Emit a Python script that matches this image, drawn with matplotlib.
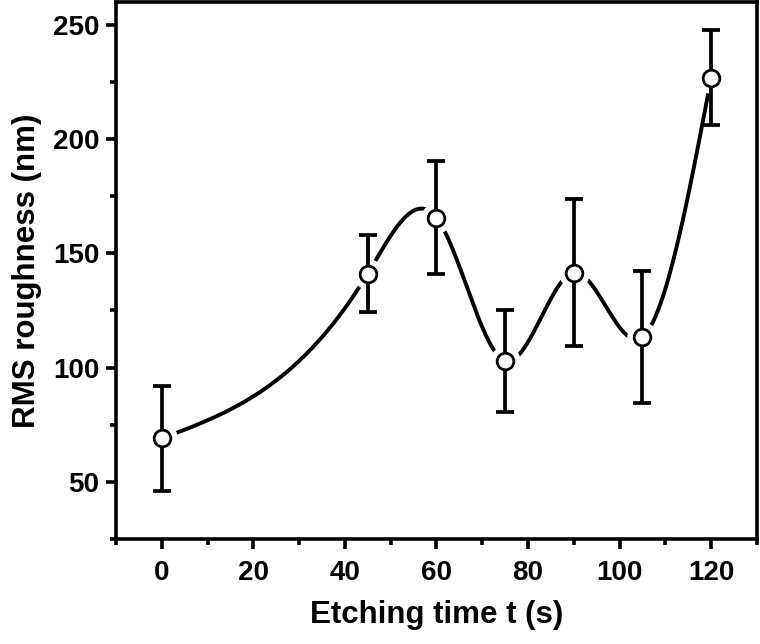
import numpy as np
import matplotlib
matplotlib.use("Agg")
import matplotlib.pyplot as plt
from matplotlib.ticker import MultipleLocator

# Data
etch_time = [0, 45, 60, 75, 90, 105, 120]
rms_rough = [69.0, 141.1, 165.5, 102.9, 141.5, 113.4, 226.7]
rms_err = [23.0, 16.7, 24.7, 22.3, 32.0, 29.0, 20.7]

x_ticks = [0, 20, 40, 60, 80, 100, 120]
y_ticks = [50, 100, 150, 200, 250]


def natural_spline(x, y, xs):
    x = np.asarray(x, float)
    y = np.asarray(y, float)
    n = len(x)
    h = np.diff(x)
    A = np.zeros((n, n))
    b = np.zeros(n)
    A[0, 0] = 1
    A[-1, -1] = 1
    for i in range(1, n - 1):
        A[i, i - 1] = h[i - 1]
        A[i, i] = 2 * (h[i - 1] + h[i])
        A[i, i + 1] = h[i]
        b[i] = 6 * ((y[i + 1] - y[i]) / h[i] - (y[i] - y[i - 1]) / h[i - 1])
    M = np.linalg.solve(A, b)
    idx = np.clip(np.searchsorted(x, xs) - 1, 0, n - 2)
    x0, x1 = x[idx], x[idx + 1]
    hh = x1 - x0
    t1 = x1 - xs
    t0 = xs - x0
    return (M[idx] * t1 ** 3 / (6 * hh) + M[idx + 1] * t0 ** 3 / (6 * hh)
            + (y[idx] / hh - M[idx] * hh / 6) * t1
            + (y[idx + 1] / hh - M[idx + 1] * hh / 6) * t0)


plt.rcParams['font.family'] = ['Liberation Sans', 'DejaVu Sans']
plt.rcParams['font.weight'] = 'bold'

fig = plt.figure(figsize=(7.6, 6.44), dpi=100)
ax = fig.add_axes([0.1526, 0.163, 0.8434, 0.8344])

xs = np.linspace(etch_time[0], etch_time[-1], 600)
ax.plot(xs, natural_spline(etch_time, rms_rough, xs), color='black', lw=2.8,
        solid_capstyle='butt', zorder=1)
# white halo giving the gap between line and symbols
ax.plot(etch_time, rms_rough, ls='none', marker='o', ms=17, mfc='white',
        mec='white', mew=5, zorder=2)
ax.errorbar(etch_time, rms_rough, yerr=rms_err, fmt='none', ecolor='black',
            elinewidth=2.7, capsize=6.5, capthick=2.7, zorder=3)
ax.plot(etch_time, rms_rough, ls='none', marker='o', ms=12, mfc='white',
        mec='black', mew=2.0, zorder=4)

ax.set_xlim(-10, 130)
ax.set_ylim(25, 260)
ax.set_xticks(x_ticks)
ax.set_yticks(y_ticks)
ax.xaxis.set_minor_locator(MultipleLocator(10))
ax.yaxis.set_minor_locator(MultipleLocator(25))
ax.tick_params(which='major', direction='out', length=7, width=2.6,
               labelsize=20, pad=5)
ax.tick_params(which='minor', direction='out', length=4, width=2.6)
ax.tick_params(axis='x', which='major', pad=8)
for sp in ax.spines.values():
    sp.set_linewidth(2.6)
for lab in ax.get_xticklabels() + ax.get_yticklabels():
    lab.set_fontweight('bold')

ax.set_xlabel('Etching time t (s)', fontsize=22.5, fontweight='bold', labelpad=10)
ax.set_ylabel('RMS roughness (nm)', fontsize=22.5, fontweight='bold', labelpad=8)

fig.savefig('out.png', dpi=100)
